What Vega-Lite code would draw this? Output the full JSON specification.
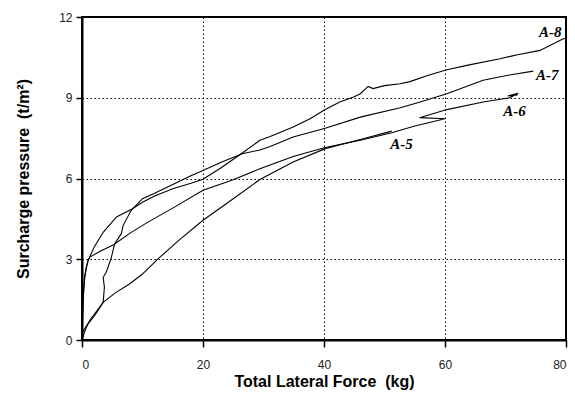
{
  "$schema": "https://vega.github.io/schema/vega-lite/v6.json",
  "width": 484,
  "height": 323,
  "autosize": "none",
  "padding": {"left": 82, "top": 17, "right": 9, "bottom": 54},
  "background": "white",
  "config": {
    "view": {"stroke": "black", "strokeWidth": 2},
    "axis": {
      "labelFont": "Liberation Sans",
      "labelFontSize": 12,
      "labelColor": "#222",
      "titleFont": "Liberation Sans",
      "titleFontSize": 16,
      "titleFontWeight": "bold",
      "titleColor": "black",
      "domainColor": "black",
      "domainWidth": 2,
      "tickColor": "black",
      "tickWidth": 1.5,
      "gridColor": "black",
      "gridDash": [1.5, 2.5],
      "gridWidth": 1,
      "gridOpacity": 1
    }
  },
  "datasets": {
    "curves": [
      {"s":"A-8","i":1,"x":0,"y":0},
      {"s":"A-8","i":2,"x":0.05,"y":0.6},
      {"s":"A-8","i":3,"x":0.15,"y":1.3},
      {"s":"A-8","i":4,"x":0.3,"y":1.9},
      {"s":"A-8","i":5,"x":0.5,"y":2.4},
      {"s":"A-8","i":6,"x":0.8,"y":2.75},
      {"s":"A-8","i":7,"x":1.0,"y":2.95},
      {"s":"A-8","i":8,"x":2.0,"y":3.45},
      {"s":"A-8","i":9,"x":3.5,"y":4.0},
      {"s":"A-8","i":10,"x":5.7,"y":4.57},
      {"s":"A-8","i":11,"x":8.2,"y":4.86},
      {"s":"A-8","i":12,"x":10,"y":5.12},
      {"s":"A-8","i":13,"x":12,"y":5.35},
      {"s":"A-8","i":14,"x":15,"y":5.62},
      {"s":"A-8","i":15,"x":18,"y":5.82},
      {"s":"A-8","i":16,"x":20,"y":5.97},
      {"s":"A-8","i":17,"x":23,"y":6.4},
      {"s":"A-8","i":18,"x":26.5,"y":6.95},
      {"s":"A-8","i":19,"x":29.4,"y":7.42},
      {"s":"A-8","i":20,"x":31,"y":7.55},
      {"s":"A-8","i":21,"x":34.9,"y":7.91},
      {"s":"A-8","i":22,"x":37.7,"y":8.22},
      {"s":"A-8","i":23,"x":40.2,"y":8.56},
      {"s":"A-8","i":24,"x":42.6,"y":8.84},
      {"s":"A-8","i":25,"x":44.9,"y":9.03},
      {"s":"A-8","i":26,"x":46,"y":9.15},
      {"s":"A-8","i":27,"x":47.3,"y":9.42},
      {"s":"A-8","i":28,"x":48.1,"y":9.34},
      {"s":"A-8","i":29,"x":50,"y":9.45},
      {"s":"A-8","i":30,"x":52.6,"y":9.52},
      {"s":"A-8","i":31,"x":54.2,"y":9.6},
      {"s":"A-8","i":32,"x":57,"y":9.82},
      {"s":"A-8","i":33,"x":60.3,"y":10.04},
      {"s":"A-8","i":34,"x":64,"y":10.22},
      {"s":"A-8","i":35,"x":69.1,"y":10.45},
      {"s":"A-8","i":36,"x":72,"y":10.6},
      {"s":"A-8","i":37,"x":75.7,"y":10.76},
      {"s":"A-8","i":38,"x":79.3,"y":11.16},
      {"s":"A-8","i":39,"x":80,"y":11.22},

      {"s":"A-7","i":1,"x":0,"y":0},
      {"s":"A-7","i":2,"x":0.5,"y":0.35},
      {"s":"A-7","i":3,"x":1.0,"y":0.6},
      {"s":"A-7","i":4,"x":2.1,"y":0.91},
      {"s":"A-7","i":5,"x":3.0,"y":1.22},
      {"s":"A-7","i":6,"x":3.5,"y":1.4},
      {"s":"A-7","i":7,"x":3.7,"y":1.96},
      {"s":"A-7","i":8,"x":3.5,"y":2.33},
      {"s":"A-7","i":9,"x":4.0,"y":2.52},
      {"s":"A-7","i":10,"x":4.8,"y":3.02},
      {"s":"A-7","i":11,"x":5.4,"y":3.58},
      {"s":"A-7","i":12,"x":6.5,"y":3.95},
      {"s":"A-7","i":13,"x":6.8,"y":4.26},
      {"s":"A-7","i":14,"x":8.15,"y":4.82},
      {"s":"A-7","i":15,"x":10,"y":5.25},
      {"s":"A-7","i":16,"x":12,"y":5.45},
      {"s":"A-7","i":17,"x":15,"y":5.78},
      {"s":"A-7","i":18,"x":18,"y":6.1},
      {"s":"A-7","i":19,"x":20,"y":6.3},
      {"s":"A-7","i":20,"x":23,"y":6.6},
      {"s":"A-7","i":21,"x":26.5,"y":6.92},
      {"s":"A-7","i":22,"x":29.4,"y":7.06},
      {"s":"A-7","i":23,"x":31,"y":7.18},
      {"s":"A-7","i":24,"x":34.9,"y":7.54},
      {"s":"A-7","i":25,"x":40.2,"y":7.87},
      {"s":"A-7","i":26,"x":46,"y":8.28},
      {"s":"A-7","i":27,"x":52.6,"y":8.63},
      {"s":"A-7","i":28,"x":55.9,"y":8.84},
      {"s":"A-7","i":29,"x":60.3,"y":9.15},
      {"s":"A-7","i":30,"x":66.3,"y":9.65},
      {"s":"A-7","i":31,"x":70,"y":9.82},
      {"s":"A-7","i":32,"x":74.6,"y":9.99},

      {"s":"A-6","i":1,"x":0,"y":0},
      {"s":"A-6","i":2,"x":0.1,"y":0.8},
      {"s":"A-6","i":3,"x":0.2,"y":1.6},
      {"s":"A-6","i":4,"x":0.4,"y":2.3},
      {"s":"A-6","i":5,"x":0.7,"y":2.7},
      {"s":"A-6","i":6,"x":1.0,"y":2.95},
      {"s":"A-6","i":7,"x":1.3,"y":3.08},
      {"s":"A-6","i":8,"x":3.0,"y":3.3},
      {"s":"A-6","i":9,"x":5.3,"y":3.55},
      {"s":"A-6","i":10,"x":8,"y":3.98},
      {"s":"A-6","i":11,"x":10.9,"y":4.38},
      {"s":"A-6","i":12,"x":15,"y":4.9},
      {"s":"A-6","i":13,"x":20,"y":5.56},
      {"s":"A-6","i":14,"x":25,"y":5.95},
      {"s":"A-6","i":15,"x":29.4,"y":6.36},
      {"s":"A-6","i":16,"x":34.9,"y":6.82},
      {"s":"A-6","i":17,"x":40.2,"y":7.15},
      {"s":"A-6","i":18,"x":46,"y":7.42},
      {"s":"A-6","i":19,"x":51.2,"y":7.7},
      {"s":"A-6","i":20,"x":55,"y":7.95},
      {"s":"A-6","i":21,"x":60,"y":8.22},
      {"s":"A-6","i":22,"x":55.8,"y":8.26},
      {"s":"A-6","i":23,"x":60.3,"y":8.56},
      {"s":"A-6","i":24,"x":66.3,"y":8.84},
      {"s":"A-6","i":25,"x":70.7,"y":9.0},
      {"s":"A-6","i":26,"x":72.1,"y":9.17},
      {"s":"A-6","i":27,"x":70.4,"y":9.07},
      {"s":"A-6","i":28,"x":72.0,"y":9.1},

      {"s":"A-5","i":1,"x":0,"y":0},
      {"s":"A-5","i":2,"x":0.1,"y":0.29},
      {"s":"A-5","i":3,"x":1.5,"y":0.8},
      {"s":"A-5","i":4,"x":3.5,"y":1.4},
      {"s":"A-5","i":5,"x":5.5,"y":1.75},
      {"s":"A-5","i":6,"x":7.9,"y":2.09},
      {"s":"A-5","i":7,"x":10,"y":2.45},
      {"s":"A-5","i":8,"x":12.6,"y":3.02},
      {"s":"A-5","i":9,"x":16,"y":3.7},
      {"s":"A-5","i":10,"x":20,"y":4.45},
      {"s":"A-5","i":11,"x":25,"y":5.25},
      {"s":"A-5","i":12,"x":29.4,"y":5.96},
      {"s":"A-5","i":13,"x":34.9,"y":6.61},
      {"s":"A-5","i":14,"x":40.2,"y":7.11},
      {"s":"A-5","i":15,"x":46,"y":7.45},
      {"s":"A-5","i":16,"x":51.2,"y":7.76}
    ],
    "labels": [
      {"s":"A-8","x":77.4,"y":11.45},
      {"s":"A-7","x":76.9,"y":9.83},
      {"s":"A-6","x":71.5,"y":8.5},
      {"s":"A-5","x":52.8,"y":7.3}
    ]
  },
  "layer": [
    {
      "data": {"name": "curves"},
      "mark": {"type": "line", "color": "black", "strokeWidth": 1.1, "clip": true},
      "encoding": {
        "x": {
          "field": "x", "type": "quantitative",
          "scale": {"domain": [0, 80], "nice": false},
          "axis": {
            "values": [0, 20, 40, 60, 80],
            "title": "Total Lateral Force\u00a0\u00a0(kg)",
            "tickSize": 7,
            "labelPadding": 12,
            "titlePadding": 3,
            "grid": true
          }
        },
        "y": {
          "field": "y", "type": "quantitative",
          "scale": {"domain": [0, 12], "nice": false},
          "axis": {
            "values": [0, 3, 6, 9, 12],
            "title": "Surcharge pressure\u00a0\u00a0(t/m²)",
            "tickSize": 6,
            "labelPadding": 4,
            "titlePadding": 27,
            "grid": true
          }
        },
        "detail": {"field": "s"},
        "order": {"field": "i", "type": "quantitative"}
      }
    },
    {
      "data": {"name": "labels"},
      "mark": {"type": "text", "font": "Liberation Serif", "fontSize": 15, "fontStyle": "italic", "fontWeight": "bold", "color": "black", "align": "center", "baseline": "middle"},
      "encoding": {
        "x": {"field": "x", "type": "quantitative"},
        "y": {"field": "y", "type": "quantitative"},
        "text": {"field": "s"}
      }
    }
  ]
}
